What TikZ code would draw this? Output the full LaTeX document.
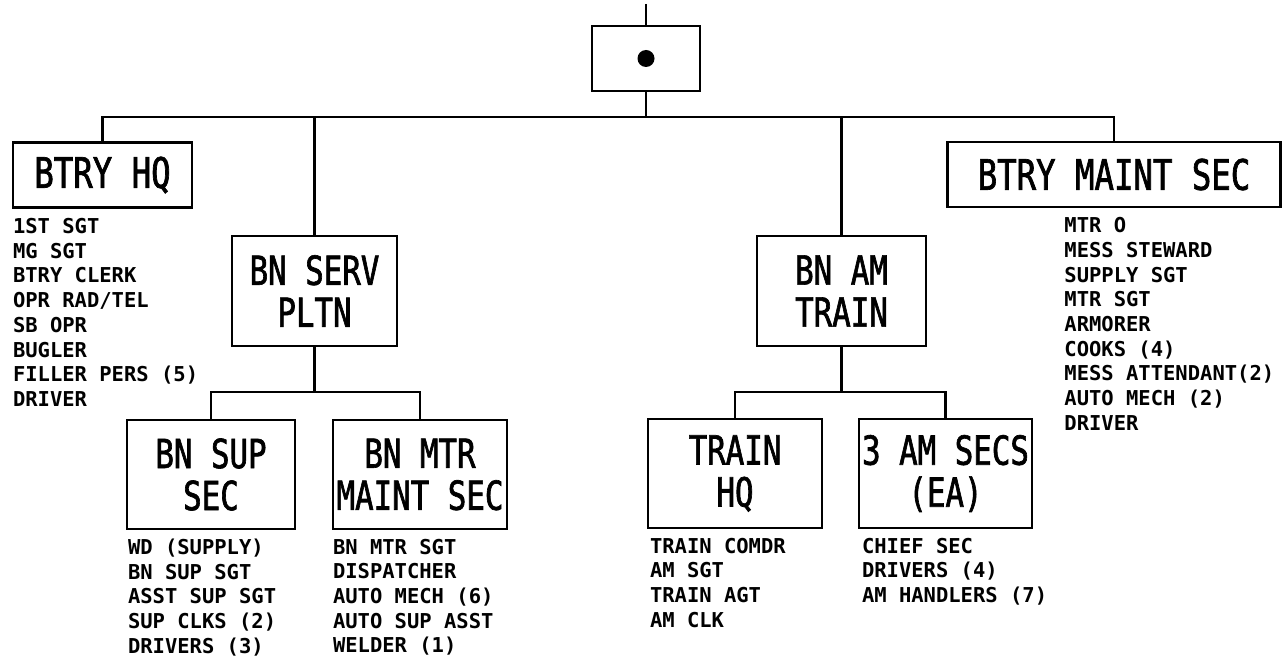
\documentclass[tikz,border=0pt]{standalone}
\usepackage{fontspec}
\usepackage{tikz}
\usetikzlibrary{positioning}
\newfontfamily\letterfont{DejaVu Sans Mono}
\newfontfamily\boxfont{DejaVu Sans Mono}[FakeStretch=0.77,FakeBold=1.6]

\begin{document}
\begin{tikzpicture}[x=1pt,y=-1pt,line width=2.8pt,
                unit/.style={draw,align=center,inner sep=0pt,
                    font=\boxfont\fontsize{40}{42}\selectfont},
                big/.style={font=\boxfont\fontsize{42}{44}\selectfont},
                roster/.style={align=left,inner sep=0pt,
                    font=\letterfont\bfseries\fontsize{20.5}{24.7}\selectfont}]
                \useasboundingbox (0,0) rectangle (1288,660);
                \coordinate (feed) at (646,4);
                \coordinate (bus) at (0,117);
                \coordinate (subbus) at (0,392);
                \node[unit,minimum width=108pt,minimum height=65pt] (btry) at (646,58.5) {};
                \node[circle,fill,inner sep=0pt,minimum size=17pt] (dot) at (btry.center) {};
                \node[unit,big,minimum width=179pt,minimum height=65pt] (hq) at (102.5,175) {BTRY HQ};
                \node[unit,big,minimum width=333pt,minimum height=65pt] (maint) at (1114,174.5) {BTRY MAINT SEC};
                \node[unit,minimum width=165pt,minimum height=110pt] (serv) at (314.5,291) {BN SERV\\PLTN};
                \node[unit,minimum width=169pt,minimum height=110pt] (amtrain) at (841.5,291) {BN AM\\TRAIN};
                \node[unit,minimum width=168pt,minimum height=109pt] (supsec) at (211,474.5) {BN SUP\\SEC};
                \node[unit,minimum width=174pt,minimum height=109pt] (mtrsec) at (420,474.5) {BN MTR\\MAINT SEC};
                \node[unit,minimum width=174pt,minimum height=109pt] (trainhq) at (735,473.5) {TRAIN\\HQ};
                \node[unit,minimum width=173pt,minimum height=109pt] (amsecs) at (945.5,473.5) {3 AM SECS\\(EA)};
                \node[roster,below=8pt of hq.south west,anchor=north west] (hqlist)
                    {1ST SGT\\MG SGT\\BTRY CLERK\\OPR RAD/TEL\\SB OPR\\BUGLER\\FILLER PERS (5)\\DRIVER};
                \node[roster,anchor=north west] (maintlist) at (1063,216)
                    {MTR O\\MESS STEWARD\\SUPPLY SGT\\MTR SGT\\ARMORER\\COOKS (4)\\MESS ATTENDANT(2)\\AUTO MECH (2)\\DRIVER};
                \node[roster,below right=7pt and 1pt of supsec.south west,anchor=north west] (suplist)
                    {WD (SUPPLY)\\BN SUP SGT\\ASST SUP SGT\\SUP CLKS (2)\\DRIVERS (3)};
                \node[roster,below=7pt of mtrsec.south west,anchor=north west] (mtrlist)
                    {BN MTR SGT\\DISPATCHER\\AUTO MECH (6)\\AUTO SUP ASST\\WELDER (1)};
                \node[roster,below right=7pt and 2pt of trainhq.south west,anchor=north west] (trainlist)
                    {TRAIN COMDR\\AM SGT\\TRAIN AGT\\AM CLK};
                \node[roster,below right=7pt and 3pt of amsecs.south west,anchor=north west] (secslist)
                    {CHIEF SEC\\DRIVERS (4)\\AM HANDLERS (7)};
                \draw (feed) -- (btry.north);
                \draw (btry.south) -- (btry.south |- bus);
                \draw (hq.north) -- (hq.north |- bus) -- (maint.north |- bus) -- (maint.north);
                \draw (serv.north) -- (serv.north |- bus);
                \draw (amtrain.north) -- (amtrain.north |- bus);
                \draw (serv.south) -- (serv.south |- subbus);
                \draw (supsec.north) -- (supsec.north |- subbus) -- (mtrsec.north |- subbus) -- (mtrsec.north);
                \draw (amtrain.south) -- (amtrain.south |- subbus);
                \draw (trainhq.north) -- (trainhq.north |- subbus) -- (amsecs.north |- subbus) -- (amsecs.north);
            \end{tikzpicture}
\end{document}
